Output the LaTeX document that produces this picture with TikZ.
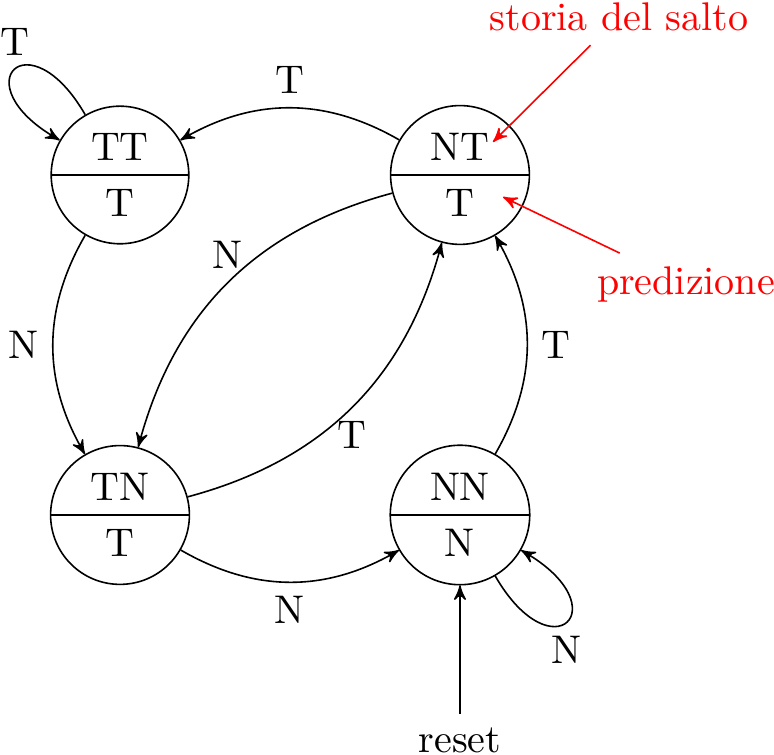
\documentclass[tikz,border=0pt]{standalone}
\usetikzlibrary{arrows,shapes.multipart}
\begin{document}
\begin{tikzpicture}[x=0.25pt,y=0.25pt,>=stealth',auto,
  sbox/.style={circle split,draw,minimum size=34.4pt,inner sep=3.33pt},
  note/.style={red},
  notearrow/.style={red,->}]
\useasboundingbox (0,0) rectangle (774,-755);
\node[sbox] (TT) at (120,-175) {TT \nodepart{lower} T};
\node[sbox] (NT) at (460,-175) {NT \nodepart{lower} T};
\node[sbox] (TN) at (120,-515) {TN \nodepart{lower} T};
\node[sbox] (NN) at (460,-515) {NN \nodepart{lower} N};

\draw[->] (TT) to[out=120,in=150,looseness=8] node[above] (lTT) {T} (TT);
\draw[->] (NT) to[bend right] node[swap] (l1) {T} (TT);
\draw[->] (TT) to[bend right] node[swap] (l2) {N} (TN);
\draw[->] (NT) to[bend right] node[above] (l3) {N} (TN);
\draw[->] (TN) to[bend right] node[below] (l4) {T} (NT);
\draw[->] (TN) to[bend right] node[swap] (l5) {N} (NN);
\draw[->] (NN) to[bend right] node[swap] (l6) {T} (NT);
\draw[->] (NN) to[out=300,in=330,looseness=8] node[below] (lNN) {N} (NN);

\node[below] (reset) at (460,-714) {reset};
\draw[->] (reset) -- (NN);

\node[note] (storia) at (619,-17) {storia del salto};
\coordinate (sA) at (493,-142);
\draw[notearrow] (storia) -- (sA);
\node[note] (pred) at (686,-285) {predizione};
\coordinate (pA) at (503,-197);
\draw[notearrow] (pred) -- (pA);
\end{tikzpicture}
\end{document}
